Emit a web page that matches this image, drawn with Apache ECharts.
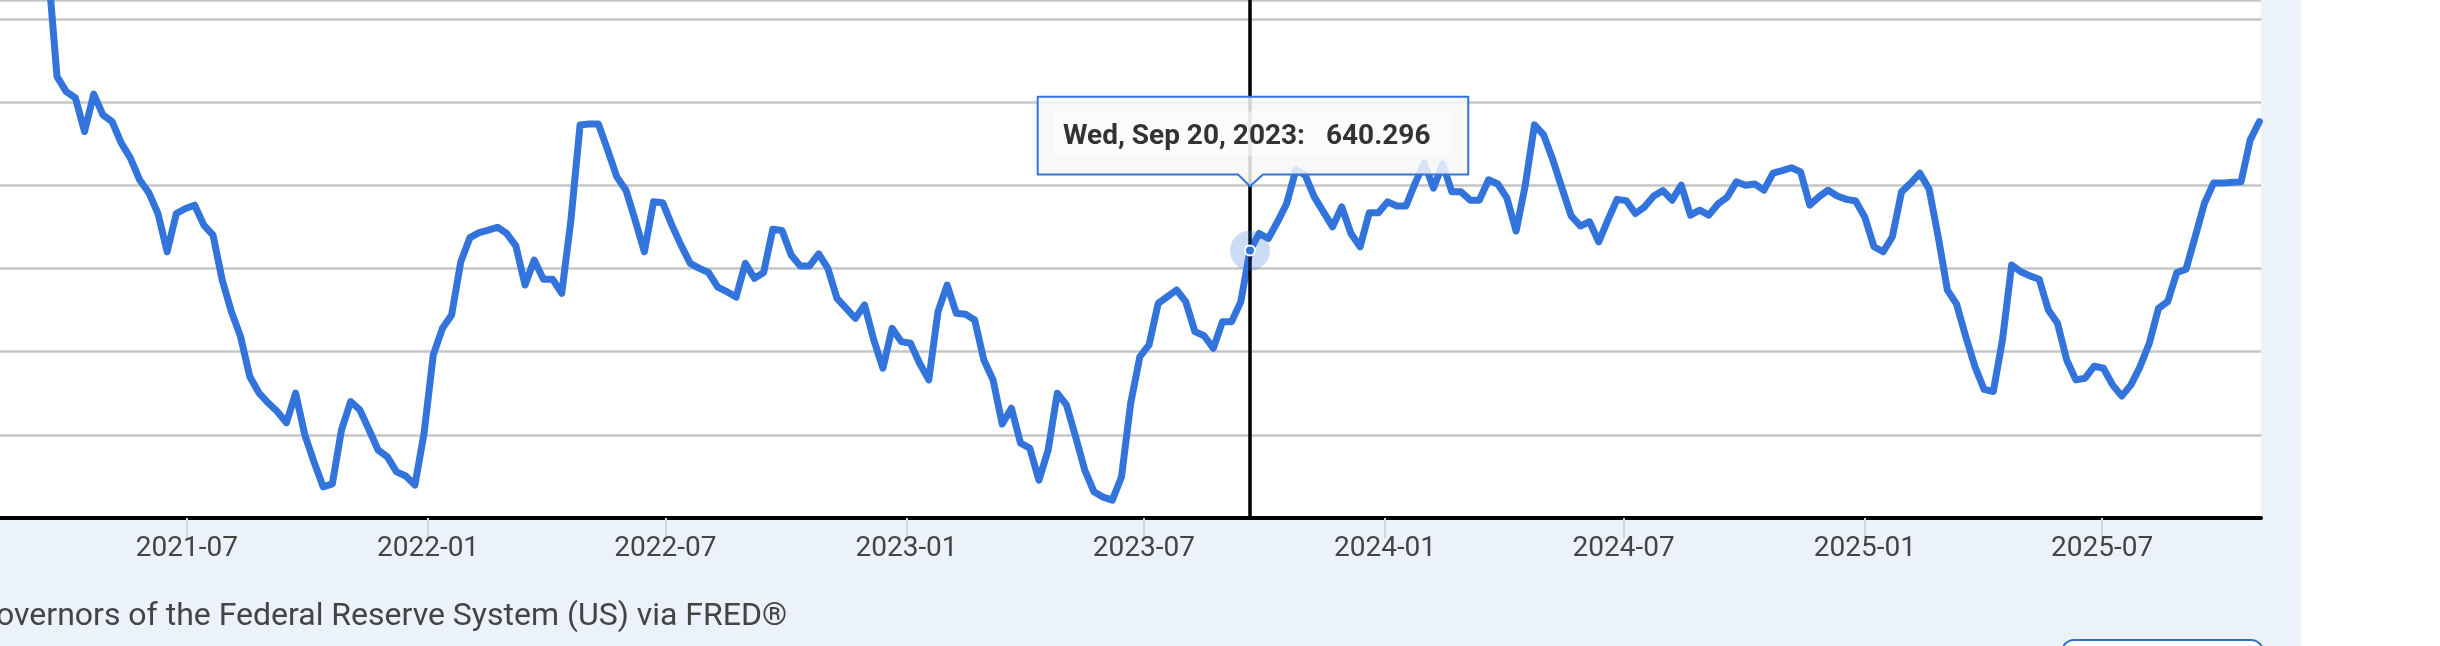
<!DOCTYPE html>
<html>
<head>
<meta charset="utf-8">
<script src="https://cdn.jsdelivr.net/npm/echarts@6/dist/echarts.min.js"></script>
<style>
  html, body { margin: 0; padding: 0; background: #ffffff; }
  #wrap { position: relative; width: 2440px; height: 646px; overflow: hidden; }
  #panel { position: absolute; left: 0; top: 0; width: 2301px; height: 646px; background: #EBF2FA; }
  #chart { position: absolute; left: 0; top: 0; width: 2440px; height: 646px; }
</style>
</head>
<body>
<div id="wrap"><div id="panel"></div><div id="chart"></div></div>
<script>
// ---- data (weekly, Wednesday observations) ----
const tickLabels = ['2021-07', '2022-01', '2022-07', '2023-01', '2023-07', '2024-01', '2024-07', '2025-01', '2025-07'];
const firstWeek = [2021, 3, 17];   // first plotted observation (year, month, day); later ones follow weekly
const values = [
  708.9, 682.1, 678.5, 677.0, 668.9, 677.9, 672.9, 671.3, 666.1, 662.5,
  657.3, 654.2, 649.2, 640.0, 649.2, 650.4, 651.2, 646.4, 644.0, 633.2,
  625.6, 619.6, 610.0, 606.1, 603.7, 601.6, 598.9, 606.0, 596.0, 589.5,
  583.5, 584.2, 597.2, 604.0, 602.0, 597.2, 592.3, 590.7, 587.1, 586.1,
  583.9, 596.4, 615.2, 621.6, 624.8, 637.6, 643.4, 644.6, 645.2, 645.9,
  644.4, 641.4, 632.0, 638.0, 633.4, 633.4, 630.0, 647.6, 670.5, 670.7,
  670.7, 664.5, 658.0, 654.8, 647.6, 640.0, 652.0, 651.8, 646.4, 641.6,
  637.2, 636.0, 635.0, 631.5, 630.4, 629.1, 637.2, 633.6, 635.0, 645.4,
  645.1, 639.2, 636.6, 636.6, 639.5, 636.0, 628.8, 626.4, 624.0, 627.2,
  618.8, 612.0, 621.6, 618.4, 618.0, 613.2, 609.2, 625.6, 632.0, 625.2,
  625.0, 623.6, 614.0, 609.2, 598.6, 602.4, 594.0, 592.8, 585.1, 592.3,
  606.0, 603.2, 595.5, 587.5, 582.3, 581.0, 580.3, 585.9, 603.6, 614.8,
  617.6, 627.6, 629.2, 630.8, 628.0, 620.8, 619.8, 616.8, 623.2, 623.2,
  628.0, 640.296, 644.4, 643.2, 647.2, 651.6, 659.7, 658.5, 653.2, 649.6,
  646.0, 650.8, 644.4, 641.2, 649.4, 649.4, 652.0, 651.0, 651.0, 656.5,
  661.3, 655.3, 661.1, 654.4, 654.4, 652.4, 652.4, 657.3, 656.3, 652.9,
  645.0, 656.0, 670.5, 668.1, 662.1, 655.3, 648.6, 646.2, 647.2, 642.4,
  647.6, 652.6, 652.3, 649.2, 650.8, 653.4, 654.7, 652.4, 656.0, 648.8,
  650.0, 648.8, 651.5, 653.1, 656.8, 656.0, 656.3, 654.8, 658.9, 659.5,
  660.2, 659.2, 651.2, 653.2, 654.8, 653.4, 652.6, 652.2, 648.3, 641.2,
  640.0, 643.6, 654.4, 656.5, 658.9, 655.1, 643.6, 630.8, 627.4, 619.6,
  612.4, 606.9, 606.4, 618.8, 636.8, 635.2, 634.2, 633.4, 626.0, 622.8,
  614.0, 609.2, 609.6, 612.5, 612.0, 608.0, 605.3, 608.0, 612.4, 618.0,
  626.4, 628.0, 635.0, 635.8, 643.6, 651.6, 656.5, 656.5, 656.7, 656.8,
  666.9, 671.3
];
const tipDate = [2023, 9, 20];
const tipValue = 640.296;
const caption = 'overnors of the Federal Reserve System (US) via FRED®';

// ---- build ----
const BLUE = '#3274DC';
const dates = values.map((v, i) => new Date(firstWeek[0], firstWeek[1] - 1, firstWeek[2] + 7 * i).getTime());
const seriesData = values.map((v, i) => [dates[i], v]);
const tickValues = tickLabels.map(s => { const p = s.split('-'); return new Date(+p[0], +p[1] - 1, 1).getTime(); });
const tipTime = new Date(tipDate[0], tipDate[1] - 1, tipDate[2]).getTime();

const DAYS = ['Sun', 'Mon', 'Tue', 'Wed', 'Thu', 'Fri', 'Sat'];
const MONTHS = ['Jan', 'Feb', 'Mar', 'Apr', 'May', 'Jun', 'Jul', 'Aug', 'Sep', 'Oct', 'Nov', 'Dec'];
const td = new Date(tipTime);
const tipHead = DAYS[td.getDay()] + ', ' + MONTHS[td.getMonth()] + ' ' + td.getDate() + ', ' + td.getFullYear() + ':';

const chart = echarts.init(document.getElementById('chart'), null, { renderer: 'canvas' });
chart.setOption({
  animation: false,
  backgroundColor: 'transparent',
  grid: { left: 0, right: 179, top: 0, bottom: 128, show: true, backgroundColor: '#ffffff', borderWidth: 0 },
  xAxis: {
    type: 'value',
    min: new Date(2021, 1, 8, 12).getTime(),
    max: new Date(2025, 9, 30, 5).getTime(),
    axisLine: { show: true, onZero: false, lineStyle: { color: '#000000', width: 4 } },
    axisTick: { show: true, customValues: tickValues, length: 20, lineStyle: { color: '#ccd6eb', width: 2 } },
    axisLabel: {
      show: true, customValues: tickValues, margin: 17,
      fontFamily: 'Roboto', fontSize: 28, color: '#444444',
      showMinLabel: true, showMaxLabel: true,
      formatter: function (val) {
        const i = tickValues.indexOf(val);
        if (i >= 0) return tickLabels[i];
        const d = new Date(val);
        return d.getFullYear() + '-' + String(d.getMonth() + 1).padStart(2, '0');
      }
    },
    splitLine: { show: false }
  },
  yAxis: {
    type: 'value',
    min: 576, max: 700.52, interval: 20,
    axisLine: { show: false }, axisTick: { show: false }, axisLabel: { show: false },
    splitLine: { show: true, lineStyle: { color: '#c6c6c6', width: 2.5 } }
  },
  series: [{
    type: 'line',
    data: seriesData,
    showSymbol: false,
    symbol: 'none',
    clip: true,
    lineStyle: { color: BLUE, width: 7, join: 'round', cap: 'round' },
    markLine: {
      silent: true, symbol: ['none', 'none'], animation: false,
      label: { show: false },
      lineStyle: { color: '#000000', width: 3.5, type: 'solid' },
      emphasis: { disabled: true },
      data: [{ xAxis: tipTime }]
    },
    markPoint: {
      silent: true, animation: false,
      label: { show: false },
      data: [
        { coord: [tipTime, tipValue], symbol: 'circle', symbolSize: 40, itemStyle: { color: 'rgba(51,116,221,0.25)' } },
        { coord: [tipTime, tipValue], symbol: 'circle', symbolSize: 10, itemStyle: { color: BLUE, borderColor: '#ffffff', borderWidth: 2 } }
      ]
    }
  }]
});

const pt = chart.convertToPixel({ gridIndex: 0 }, [tipTime, tipValue]);
const px = pt[0], py = pt[1];
const L = px - 212.3, R = px + 218.3, T = py - 153.7, B = py - 76;
const tipY = py - 64.3;
const callout = [[L, T], [R, T], [R, B], [px + 13, B], [px, tipY], [px - 12, B], [L, B]];

chart.setOption({
  graphic: [
    { type: 'polygon', z: 100, silent: true, shape: { points: callout },
      style: { fill: 'rgba(247,247,247,0.85)', stroke: BLUE, lineWidth: 2, lineJoin: 'round' } },
    { type: 'rect', z: 101, silent: true,
      shape: { x: px - 196.7, y: py - 139.3, width: 397.7, height: 45 },
      style: { fill: 'rgba(255,255,255,0.45)' } },
    { type: 'text', z: 102, silent: true, x: px - 187, y: py - 114,
      style: { text: tipHead, font: 'bold 28px Roboto', fill: '#333333', verticalAlign: 'middle', align: 'left' } },
    { type: 'text', z: 102, silent: true, x: px + 76, y: py - 114,
      style: { text: tipValue.toFixed(3), font: 'bold 28px Roboto', fill: '#333333', verticalAlign: 'middle', align: 'left' } },
    { type: 'text', z: 50, silent: true, x: -4, y: 617,
      style: { text: caption, font: '32px Roboto', fill: '#444444', verticalAlign: 'middle', align: 'left' } },
    { type: 'rect', z: 50, silent: true,
      shape: { x: 2062, y: 640, width: 201, height: 40, r: 12 },
      style: { fill: '#ffffff', stroke: '#2f6fc4', lineWidth: 2 } }
  ]
});
</script>
</body>
</html>
